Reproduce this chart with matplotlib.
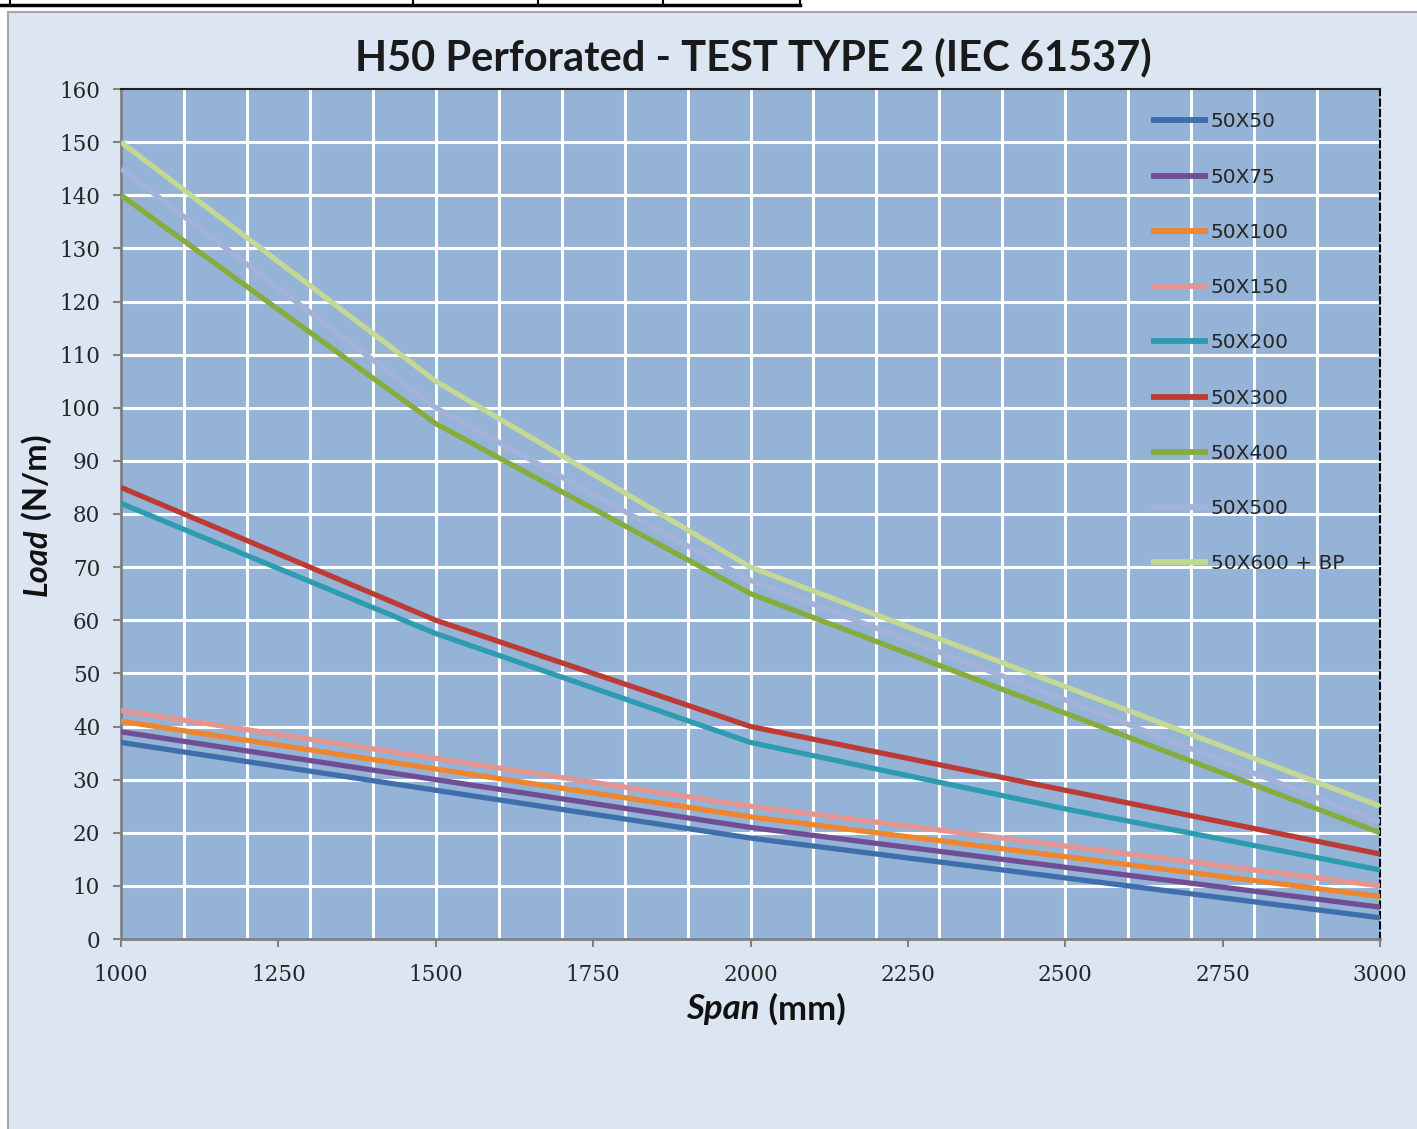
import matplotlib
matplotlib.use('Agg')
import matplotlib.pyplot as plt
from matplotlib.lines import Line2D
from matplotlib.patches import Rectangle
import numpy as np

# data
span = [1000, 1500, 2000, 2500, 3000]
series_names = ['50X50', '50X75', '50X100', '50X150', '50X200',
                '50X300', '50X400', '50X500', '50X600 + BP']
load_50x50 = [37, 28, 19, 11.5, 4]
load_50x75 = [39, 30, 21, 13.5, 6]
load_50x100 = [41, 32, 23, 15.5, 8]
load_50x150 = [43, 34, 25, 17.5, 10]
load_50x200 = [82, 57.5, 37, 24.5, 13]
load_50x300 = [85, 60, 40, 28, 16]
load_50x400 = [140, 97, 65, 42.5, 20]
load_50x500 = [145, 100, 67.5, 45, 22]
load_50x600bp = [150, 105, 70, 47.5, 25]
loads = [load_50x50, load_50x75, load_50x100, load_50x150, load_50x200,
         load_50x300, load_50x400, load_50x500, load_50x600bp]
colors = ['#3F6EAD', '#6F4E93', '#EE8630', '#E3968F', '#2D9CB0',
          '#BC3B35', '#86AC3E', '#A4B1D9', '#C2D894']
x_ticks = [1000, 1250, 1500, 1750, 2000, 2250, 2500, 2750, 3000]

W, H = 1417, 1129
fig = plt.figure(figsize=(W / 100, H / 100), dpi=100)
fig.patch.set_facecolor('white')

# chart area background
fig.patches.append(Rectangle((8 / W, -0.01), 1.0, 1 - 12 / H + 0.01,
                             transform=fig.transFigure, facecolor='#DCE6F2',
                             edgecolor='#A6A6A6', lw=1.5, zorder=-5))
# table border remnant at top
fig.lines.append(Line2D([0, 800 / W], [1 - 5 / H, 1 - 5 / H],
                        transform=fig.transFigure, color='black', lw=2.5))
for xp in [10, 413, 538, 663, 800]:
  fig.lines.append(Line2D([xp / W, xp / W], [1, 1 - 5 / H],
                          transform=fig.transFigure, color='black', lw=1.5))

ax = fig.add_axes([121 / W, 1 - 939 / H, 1259 / W, 850 / H])
ax.set_facecolor('#95B3D7')
ax.set_zorder(2)

for xg in range(1100, 3000, 100):
  ax.axvline(xg, color='white', lw=2.2, zorder=1)
for yg in range(10, 160, 10):
  ax.axhline(yg, color='white', lw=2.2, zorder=1)

for name, vals, c in zip(series_names, loads, colors):
  ax.plot(span, vals, color=c, lw=3.8, label=name, zorder=3,
          solid_capstyle='butt')

ax.set_xlim(1000, 3000)
ax.set_ylim(0, 160)
ax.set_xticks(x_ticks)
ax.set_yticks(range(0, 161, 10))
ax.tick_params(axis='both', direction='out', length=6, width=1.5,
               color='#808080', labelsize=15.5, labelcolor='#262626')
ax.tick_params(axis='x', pad=12)
ax.tick_params(axis='y', pad=9)
for lab in ax.get_xticklabels() + ax.get_yticklabels():
  lab.set_fontfamily('DejaVu Serif')

ax.spines['left'].set_color('#808080')
ax.spines['left'].set_linewidth(2)
ax.spines['bottom'].set_color('#808080')
ax.spines['bottom'].set_linewidth(2)
ax.spines['top'].set_color('#1F1F1F')
ax.spines['top'].set_linewidth(1.5)
ax.spines['right'].set_color('black')
ax.spines['right'].set_linewidth(1.5)
ax.spines['right'].set_linestyle((0, (3, 2)))

leg = ax.legend(loc='upper left', bbox_to_anchor=(0.812, 0.982), frameon=False,
                fontsize=14.5, labelspacing=1.8, handlelength=2.8,
                handletextpad=0.15, borderaxespad=0)
for t in leg.get_texts():
  t.set_color('#262626')
for lh in leg.get_lines():
  lh.set_linewidth(4.2)

fig.text(753 / W, 1 - 57 / H, 'H50 Perforated - TEST TYPE 2 (IEC 61537)',
         ha='center', va='center', fontsize=30, fontweight='bold',
         family='Lato', color='#1A1A1A')

# axis labels made of an italic-bold word and a bold unit
renderer = fig.canvas.get_renderer()
t1 = fig.text(0, 0, 'Span', fontsize=25, fontweight='bold', style='italic',
              family='Lato', color='#111111')
t2 = fig.text(0, 0, ' (mm)', fontsize=25, fontweight='bold',
              family='Lato', color='#111111')
w1 = t1.get_window_extent(renderer).width
w2 = t2.get_window_extent(renderer).width
x0 = 766 - (w1 + w2) / 2
yc = 1 - 1009 / H
t1.set_position((x0 / W, yc))
t1.set_va('center')
t2.set_position(((x0 + w1) / W, yc))
t2.set_va('center')

t3 = fig.text(0, 0, 'Load', fontsize=23.5, fontweight='bold', style='italic',
              family='Lato', color='#111111', rotation=90)
t4 = fig.text(0, 0, ' (N/m)', fontsize=23.5, fontweight='bold',
              family='Lato', color='#111111', rotation=90)
h3 = t3.get_window_extent(renderer).height
h4 = t4.get_window_extent(renderer).height
y0 = 515 - (h3 + h4) / 2
for t in (t3, t4):
  t.set_ha('center')
  t.set_va('bottom')
t3.set_position((37 / W, 1 - (y0 + h3 + h4) / H))
t4.set_position((37 / W, 1 - (y0 + h4) / H))

fig.savefig('out.png', dpi=100, facecolor=fig.get_facecolor())
